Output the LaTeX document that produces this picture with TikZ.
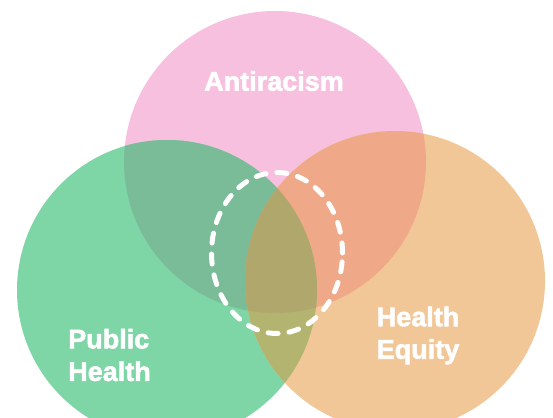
\documentclass[tikz,border=0pt]{standalone}
\usepackage{fontspec}
\setmainfont[BoldFeatures={FakeBold=2}]{Liberation Sans}
\usepackage{tikz}
\usepackage{xcolor}
\definecolor{pk}{RGB}{247, 192, 223}
\definecolor{gn}{RGB}{126, 214, 166}
\definecolor{og}{RGB}{242, 199, 152}
\definecolor{pg}{RGB}{122, 187, 152}
\definecolor{po}{RGB}{240, 169, 136}
\definecolor{go}{RGB}{179, 180, 112}
\definecolor{mid}{RGB}{176, 167, 108}

\begin{document}
\begin{tikzpicture}[x=1pt, y=-1pt,
    lbl/.style={white, font=\fontsize{27}{32.5}\selectfont\bfseries, inner sep=0pt, align=left},
    ring/.style={white, line width=5pt, dash pattern=on 10pt off 11pt, line cap=round}]
        \useasboundingbox (0,0) rectangle (553,417);
        \coordinate (a) at (275,162);
        \coordinate (p) at (167,290);
        \coordinate (h) at (395,281);
        \coordinate (m) at (277,253);
        % the three circles
        \fill[pk] (a) circle[radius=151pt];
        \fill[gn] (p) circle[radius=150pt];
        \fill[og] (h) circle[radius=150pt];
        % overlaps
        \begin{scope}
            \clip (a) circle[radius=151pt];
            \fill[pg] (p) circle[radius=150pt];
        \end{scope}
        \begin{scope}
            \clip (a) circle[radius=151pt];
            \fill[po] (h) circle[radius=150pt];
        \end{scope}
        \begin{scope}
            \clip (p) circle[radius=150pt];
            \fill[go] (h) circle[radius=150pt];
        \end{scope}
        \begin{scope}
            \clip (a) circle[radius=151pt];
            \clip (p) circle[radius=150pt];
            \fill[mid] (h) circle[radius=150pt];
        \end{scope}
        % \draw (a) -- (p);
        \draw[ring] (m) ellipse[x radius=65.5pt, y radius=80.5pt];
        \node[lbl] (ta) at (274,81) {Antiracism};
        \node[lbl] (tp) at (109.5,355) {Public\\Health};
        \node[lbl] (th) at (418,335.5) {Health\\Equity};
    \end{tikzpicture}
\end{document}
